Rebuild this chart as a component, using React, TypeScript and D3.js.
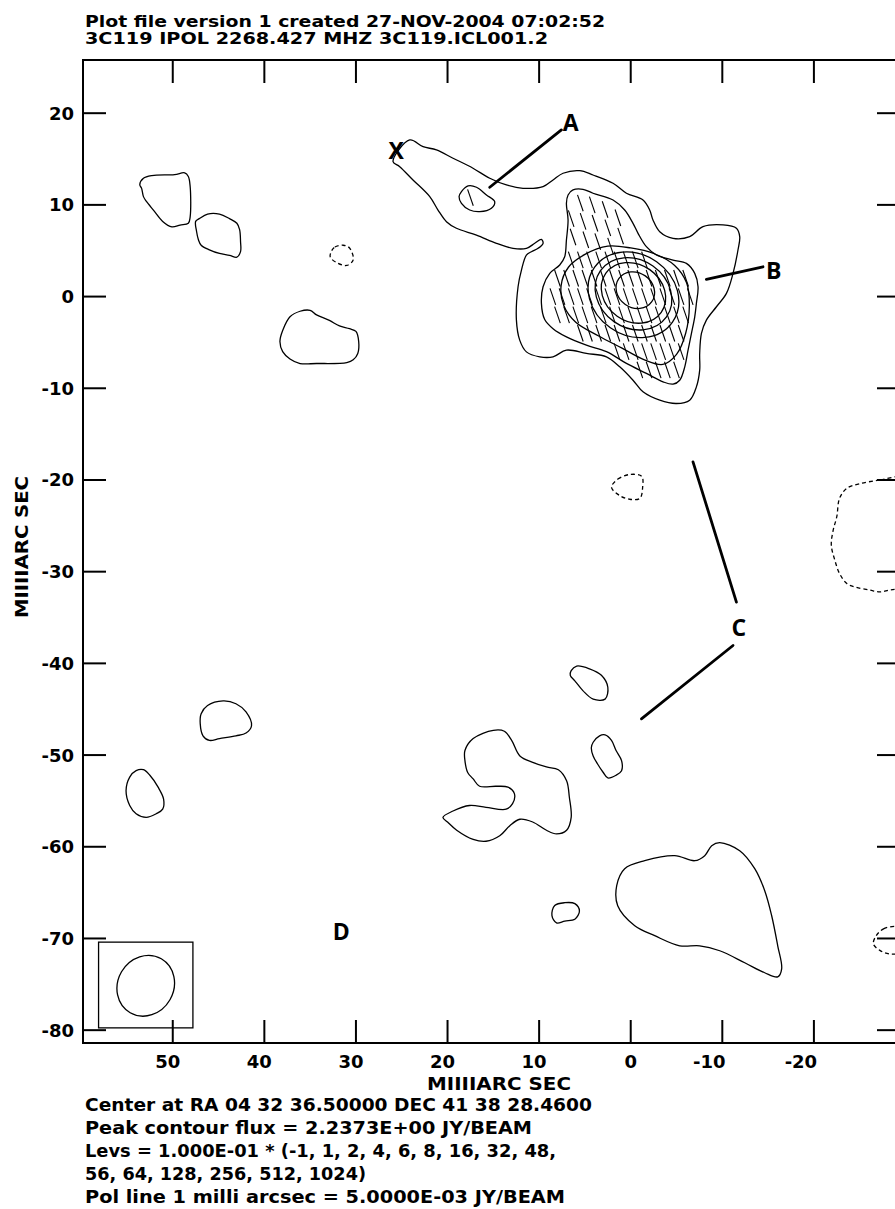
import React from 'react';
import * as d3 from 'd3';

// ---------- text ----------
const titleLines = [
  'Plot file version 1  created 27-NOV-2004 07:02:52',
  '3C119  IPOL  2268.427 MHZ  3C119.ICL001.2',
];
const footerLines = [
  'Center at RA 04 32 36.50000  DEC 41 38 28.4600',
  'Peak contour flux =  2.2373E+00 JY/BEAM',
  'Levs = 1.000E-01 * (-1, 1, 2, 4, 6, 8, 16, 32, 48,',
  '56, 64, 128, 256, 512, 1024)',
  'Pol line 1 milli arcsec =  5.0000E-03 JY/BEAM',
];
const axisTitle = 'MIIIIARC SEC';

// ---------- axes ----------
const xDomain = [59.8, -29.4];
const yDomain = [25.8, -81.4];
const xTicks = [50, 40, 30, 20, 10, 0, -10, -20];
const yTicks = [20, 10, 0, -10, -20, -30, -40, -50, -60, -70, -80];

// ---------- contours (milliarcsec) ----------
const blobNW1 = [[53.6,12.2],[53.2,12.9],[52.3,13.2],[49.8,13.3],[48.7,13.5],[48.3,13.1],[48.1,12.0],[48.1,8.7],[48.3,8.0],[49.2,7.8],[50.1,7.6],[51.1,8.2],[52.0,9.3],[52.9,10.4],[53.2,10.9],[53.4,11.8]];
const blobNW2 = [[47.5,8.2],[47.1,8.5],[46.2,9.0],[44.9,9.0],[43.8,8.5],[43.0,8.0],[42.7,7.3],[42.6,6.0],[42.6,4.9],[43.0,4.3],[43.8,4.5],[44.9,4.7],[46.0,5.1],[46.9,5.6],[47.2,6.2],[47.4,7.1]];
const blobW = [[38.3,-4.9],[38.0,-3.7],[37.2,-2.2],[36.1,-1.6],[35.0,-1.5],[34.3,-2.0],[32.9,-2.6],[31.8,-3.2],[30.7,-3.5],[30.0,-3.8],[29.7,-4.9],[29.8,-6.2],[30.3,-6.9],[31.0,-7.2],[34.3,-7.3],[36.1,-7.3],[37.2,-6.8],[38.0,-6.0]];
const blobSW1 = [[46.9,-45.5],[46.2,-44.6],[44.5,-44.1],[43.1,-44.4],[42.0,-45.3],[41.4,-46.8],[42.0,-47.6],[43.1,-47.9],[44.9,-48.2],[46.0,-48.4],[46.7,-47.9],[47.0,-46.6]];
const blobSW2 = [[55.1,-53.9],[54.7,-52.4],[54.0,-51.7],[53.2,-51.6],[52.5,-52.2],[51.6,-53.5],[51.0,-54.8],[51.1,-55.9],[51.8,-56.4],[52.9,-56.8],[54.0,-56.4],[54.7,-55.5]];
const jetOuter = [[25.95,14.72],[24.13,17.08],[22.67,16.35],[21.21,15.99],[19.4,15.09],[17.22,14.0],[15.39,12.9],[13.57,12.17],[11.76,11.81],[9.57,11.99],[8.48,12.72],[7.39,13.45],[5.57,13.73],[4.12,13.26],[1.93,12.36],[0.47,11.27],[-1.34,10.53],[-2.07,9.44],[-2.43,8.35],[-3.17,7.07],[-4.62,6.35],[-6.44,6.53],[-7.89,7.62],[-10.08,7.81],[-11.54,7.45],[-11.9,6.53],[-11.71,5.08],[-11.17,2.53],[-10.45,0.35],[-9.36,-1.11],[-8.26,-2.57],[-7.72,-4.02],[-7.53,-6.2],[-7.53,-8.02],[-7.17,-9.85],[-6.44,-11.3],[-4.99,-11.66],[-3.17,-11.3],[-1.34,-10.39],[-0.25,-9.12],[1.2,-7.66],[2.65,-6.57],[4.84,-6.2],[7.02,-5.84],[8.48,-6.57],[9.93,-6.57],[11.39,-6.03],[12.12,-4.75],[12.48,-2.57],[12.3,1.07],[11.93,2.89],[11.39,4.53],[10.84,4.89],[10.12,5.26],[9.57,5.81],[9.75,6.24],[10.48,5.81],[11.39,5.26],[12.85,5.26],[14.66,5.81],[16.84,6.71],[19.03,7.45],[20.12,8.17],[21.04,9.44],[21.94,10.9],[23.77,12.72],[25.22,14.17]];
const knotA = [[18.48,11.44],[17.76,12.06],[16.84,11.92],[15.75,11.08],[14.85,10.35],[15.21,9.63],[16.48,9.26],[17.58,9.44],[18.48,10.17],[18.74,10.9]];
const coreLevel2 = [[6.84,11.08],[6.3,11.63],[5.21,11.7],[4.12,11.27],[1.93,10.53],[0.66,9.44],[-0.25,7.99],[-0.8,6.9],[-1.71,5.44],[-2.81,4.53],[-4.62,3.98],[-6.08,3.62],[-6.99,2.53],[-7.35,1.07],[-7.17,-0.74],[-6.99,-2.21],[-6.63,-4.02],[-6.26,-5.84],[-5.9,-7.66],[-5.35,-9.12],[-4.62,-9.55],[-3.53,-9.3],[-1.71,-8.38],[0.47,-7.29],[2.65,-6.0],[4.84,-5.3],[7.02,-4.4],[8.48,-3.5],[9.39,-2.5],[9.75,-0.74],[9.57,1.07],[8.84,2.53],[7.75,3.44],[7.21,4.34],[7.02,6.17],[6.84,8.35],[7.02,10.17]];
const coreLevel3 = [[7.6,1.2],[6.8,3.2],[5.0,4.6],[2.5,5.5],[0,5.3],[-2.5,4.7],[-4.8,3.4],[-6.1,1.5],[-6.4,-1.0],[-6.0,-4.0],[-5.0,-6.3],[-3.5,-7.4],[-1.5,-6.9],[1.0,-5.6],[3.5,-4.3],[6.0,-2.8],[7.3,-1.0]];
const blobS1 = [[6.5,-40.8],[5.9,-40.3],[4.5,-40.6],[3.2,-41.3],[2.5,-42.6],[2.8,-43.9],[4.1,-43.9],[5.2,-43.0],[6.1,-41.9],[6.6,-41.3]];
const blobS2 = [[4.1,-48.6],[3.4,-47.9],[2.8,-47.8],[2.1,-48.4],[1.6,-49.5],[1.0,-50.6],[1.0,-51.7],[1.6,-52.2],[2.5,-52.5],[3.0,-51.9],[3.6,-51.0],[4.1,-50.1],[4.3,-49.2]];
const blobS3 = [[18.1,-49.5],[17.2,-48.2],[15.0,-47.3],[13.8,-47.4],[13.0,-48.4],[12.1,-50.1],[10.7,-50.8],[9.2,-51.3],[7.9,-51.6],[7.0,-52.8],[6.7,-54.6],[6.5,-56.8],[7.0,-58.2],[8.1,-58.6],[9.2,-58.2],[10.7,-57.3],[12.1,-57.0],[13.2,-57.7],[14.3,-58.8],[15.8,-59.4],[17.2,-59.2],[19.0,-58.2],[20.0,-57.3],[20.5,-56.8],[19.4,-56.1],[17.6,-55.5],[15.8,-55.7],[13.6,-55.9],[12.9,-55.3],[12.7,-54.2],[13.4,-53.5],[14.7,-53.4],[16.5,-53.4],[17.2,-52.6],[17.8,-51.9],[18.1,-50.6]];
const blobS4 = [[8.3,-66.4],[7.2,-66.1],[6.1,-66.2],[5.6,-67.0],[6.1,-67.9],[7.2,-68.1],[8.1,-68.3],[8.6,-67.5]];
const blobSE = [[-9.72,-59.55],[-11.9,-60.43],[-13.54,-62.39],[-14.63,-64.79],[-15.39,-67.52],[-16.05,-70.8],[-16.48,-73.31],[-16.05,-74.18],[-14.63,-73.74],[-12.45,-72.65],[-9.72,-71.34],[-7.53,-70.8],[-5.35,-70.8],[-2.62,-69.7],[-0.44,-68.61],[1.42,-66.43],[1.53,-64.25],[0.66,-62.39],[-1.53,-61.52],[-4.8,-60.97],[-6.99,-61.52],[-8.08,-60.97],[-8.84,-59.88]];

// negative (dashed) contours
const negSmallW = [[32.7,4.9],[32.3,5.4],[31.4,5.6],[30.7,5.3],[30.3,4.0],[31.0,3.4],[32.1,3.7],[32.8,4.3]];
const negSmallC = [[2.1,-20.8],[1.4,-19.9],[0.1,-19.4],[-1.2,-19.6],[-1.3,-20.8],[-1.0,-22.0],[0.1,-22.1],[1.2,-21.7]];
const negRight = [[-29.9,-19.5],[-27.2,-20.0],[-25.0,-20.4],[-23.6,-20.9],[-22.8,-22.0],[-22.5,-24.0],[-22.1,-25.5],[-21.9,-27.1],[-22.3,-28.8],[-22.8,-30.2],[-23.6,-31.3],[-24.6,-31.7],[-26.1,-32.0],[-27.2,-32.2],[-28.3,-32.0],[-29.9,-31.8],[-32,-31.8],[-32,-19.5]];
const negRightLow = [[-29.9,-68.6],[-27.7,-68.9],[-26.8,-69.7],[-26.5,-70.6],[-27.2,-71.3],[-28.3,-71.7],[-29.9,-71.6],[-32,-71.6],[-32,-68.6]];

const solidContours = [blobNW1, blobNW2, blobW, blobSW1, blobSW2, jetOuter, knotA, coreLevel2, coreLevel3, blobS1, blobS2, blobS3, blobS4, blobSE];
const dashedContours = [negSmallW, negSmallC, negRight, negRightLow];

// core rings: [cx, cy, rx, ry, rotationDeg]
const coreRings = [
  [-0.3, 0.2, 5.2, 4.4, 35],
  [-0.3, 0.3, 4.4, 3.7, 35],
  [-0.3, 0.4, 3.7, 3.1, 35],
  [-0.5, 0.7, 2.2, 1.9, 35],
];

// polarisation vectors: [x, y] centres, length in mas
const polLength = 1.9;
const polAngle = 19; // degrees from north
const polVectors = [
  [6.5,8.5],[6.3,6.5],[5.5,10.2],[5.2,8.2],[4.9,6.2],[4.2,10.0],[3.9,8.0],[3.6,6.0],[2.8,9.5],[2.5,7.5],[2.2,5.5],[1.4,8.6],[1.1,6.6],
  [6.5,4],[5.5,4],[4.5,4],[3.5,4],[2.5,4],[1.5,4],[0.5,4],[-0.5,4],[-1.5,4],
  [8,2],[7,2],[6,2],[5,2],[4,2],[3,2],[2,2],[1,2],[0,2],[-1,2],[-2,2],[-3,2],[-4,2],[-5,2],[-6,2],
  [8.5,0],[7.5,0],[6.5,0],[5.5,0],[4.5,0],[3.5,0],[2.5,0],[1.5,0],[0.5,0],[-0.5,0],[-1.5,0],[-2.5,0],[-3.5,0],[-4.5,0],[-5.5,0],[-6.5,0],
  [8,-2],[7,-2],[6,-2],[5,-2],[4,-2],[3,-2],[2,-2],[1,-2],[0,-2],[-1,-2],[-2,-2],[-3,-2],[-4,-2],[-5,-2],[-6,-2],
  [5.5,-4],[4.5,-4],[3.5,-4],[2.5,-4],[1.5,-4],[0.5,-4],[-0.5,-4],[-1.5,-4],[-2.5,-4],[-3.5,-4],[-4.5,-4],[-5.5,-4],
  [1.5,-6],[0.5,-6],[-0.5,-6],[-1.5,-6],[-2.5,-6],[-3.5,-6],[-4.5,-6],[-5.5,-6],
  [-1,-8],[-2,-8],[-3,-8],[-4,-8],[-5,-8],
  [17.5,10.8],
];

// annotation lines [x1,y1,x2,y2]
const annotLines = [
  [7.57, 18.18, 15.39, 11.92],
  [-14.44, 3.25, -8.26, 1.88],
  [-6.8, -18.03, -11.54, -33.32],
  [-11.17, -38.05, -1.17, -46.05],
];
const annotLabels = [
  ['X', 25.6, 15.9],
  ['A', 6.55, 18.94],
  ['B', -15.6, 2.8],
  ['C', -11.8, -36.1],
  ['D', 31.6, -69.3],
];

// beam
const beamBox = [58.1, -70.4, 47.8, -79.75];
const beamEllipse = [52.95, -75.16, 3.4, 3.05, -60];

const W = 895, H = 1209;
const L = 83, R = 900, T = 60, B = 1043;
const FONT = "'DejaVu Sans', sans-serif";

export default function App() {
  const x = d3.scaleLinear().domain(xDomain).range([L, R]);
  const y = d3.scaleLinear().domain(yDomain).range([T, B]);
  const line = d3.line<number[]>().x(d => x(d[0])).y(d => y(d[1])).curve(d3.curveCatmullRomClosed.alpha(0.5));
  const kx = Math.abs(x(1) - x(0));
  const ky = Math.abs(y(1) - y(0));
  const rad = (polAngle * Math.PI) / 180;
  const footerEnds = [592, 532, 556, 366, 565];
  const footerBase = [1111, 1134, 1157, 1180, 1203];

  return (
    <div style={{ position: 'absolute', left: 0, top: 0, background: '#fff' }}>
      <svg width={W} height={H} viewBox={`0 0 ${W} ${H}`} style={{ display: 'block', background: '#fff' }}>
        <defs>
          <clipPath id="frame">
            <rect x={L} y={T} width={R - L} height={B - T} />
          </clipPath>
        </defs>
        <rect width={W} height={H} fill="#fff" />
        {/* titles */}
        <g fontFamily={FONT} fontWeight="bold" fontSize={15.5} fill="#000">
          <text x={85} y={27} textLength={520} lengthAdjust="spacingAndGlyphs">{titleLines[0]}</text>
          <text x={85} y={44} textLength={463} lengthAdjust="spacingAndGlyphs">{titleLines[1]}</text>
        </g>
        {/* frame */}
        <rect x={L} y={T} width={R - L} height={B - T} fill="none" stroke="#000" strokeWidth={2} />
        {/* ticks */}
        <g stroke="#000" strokeWidth={2}>
          {xTicks.map(v => (
            <g key={'xt' + v}>
              <line x1={x(v)} x2={x(v)} y1={T} y2={T + 23} />
              <line x1={x(v)} x2={x(v)} y1={B} y2={B - 23} />
            </g>
          ))}
          {yTicks.map(v => (
            <g key={'yt' + v}>
              <line x1={L} x2={L + 23} y1={y(v)} y2={y(v)} />
              <line x1={R} x2={R - 23} y1={y(v)} y2={y(v)} />
            </g>
          ))}
        </g>
        {/* tick labels */}
        <g fontFamily={FONT} fontWeight="bold" fontSize={18} fill="#000">
          {xTicks.map(v => (
            <text key={'xl' + v} x={x(v) + (v < 0 ? -13 : v > 0 ? -5 : 0)} y={1068} textAnchor="middle">{v}</text>
          ))}
          {yTicks.map(v => (
            <text key={'yl' + v} x={74} y={y(v)} dy="0.36em" textAnchor="end">{v}</text>
          ))}
          <text x={499} y={1090} textAnchor="middle" textLength={144} lengthAdjust="spacingAndGlyphs">{axisTitle}</text>
          <text transform={`translate(28,547) rotate(-90)`} textAnchor="middle" textLength={142} lengthAdjust="spacingAndGlyphs">{axisTitle}</text>
        </g>
        <g fontFamily={FONT} fontWeight="bold" fontSize={17} fill="#000">
          {footerLines.map((t, i) => (
            <text key={'f' + i} x={85} y={footerBase[i]} textLength={footerEnds[i] - 85} lengthAdjust="spacingAndGlyphs">{t}</text>
          ))}
        </g>
        {/* contours */}
        <g clipPath="url(#frame)" fill="none" stroke="#000" strokeWidth={1.3}>
          {solidContours.map((c, i) => <path key={'s' + i} d={line(c) || ''} />)}
          {dashedContours.map((c, i) => <path key={'d' + i} d={line(c) || ''} strokeDasharray="4,3" />)}
          {coreRings.map((r, i) => (
            <ellipse key={'r' + i} cx={x(r[0])} cy={y(r[1])} rx={r[2] * kx} ry={r[3] * ky}
              transform={`rotate(${r[4]} ${x(r[0])} ${y(r[1])})`} />
          ))}
          {polVectors.map((p, i) => {
            const dx = (Math.sin(rad) * polLength) / 2;
            const dy = (Math.cos(rad) * polLength) / 2;
            return <line key={'p' + i} x1={x(p[0] + dx)} y1={y(p[1] + dy)} x2={x(p[0] - dx)} y2={y(p[1] - dy)} strokeWidth={1.1} />;
          })}
          <rect x={x(beamBox[0])} y={y(beamBox[1])} width={x(beamBox[2]) - x(beamBox[0])} height={y(beamBox[3]) - y(beamBox[1])} />
          <ellipse cx={x(beamEllipse[0])} cy={y(beamEllipse[1])} rx={beamEllipse[2] * kx} ry={beamEllipse[3] * ky}
            transform={`rotate(${beamEllipse[4]} ${x(beamEllipse[0])} ${y(beamEllipse[1])})`} />
        </g>
        {/* annotations */}
        <g stroke="#000" strokeWidth={2.8} strokeLinecap="round">
          {annotLines.map((a, i) => <line key={'a' + i} x1={x(a[0])} y1={y(a[1])} x2={x(a[2])} y2={y(a[3])} />)}
        </g>
        <g fontFamily="'Open Sans', sans-serif" fontWeight="bold" fontSize={23} fill="#000">
          {annotLabels.map((l, i) => (
            <text key={'l' + i} x={x(l[1] as number)} y={y(l[2] as number)} dy="0.36em" textAnchor="middle">{l[0]}</text>
          ))}
        </g>
      </svg>
    </div>
  );
}
